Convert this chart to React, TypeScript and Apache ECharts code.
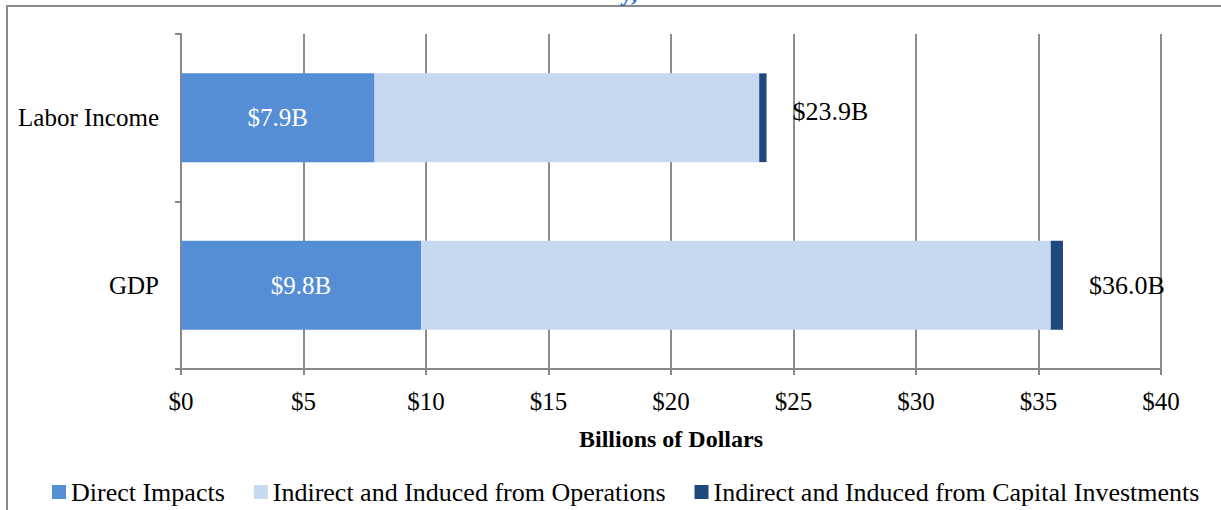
import React, { useEffect, useRef } from "react";
import * as echarts from "echarts";

const categories = ["Labor Income", "GDP"];
const directImpacts = [7.9, 9.8];
const indirectOperations = [15.7, 25.7];
const indirectCapital = [0.3, 0.5];
const totalLabels = ["$23.9B", "$36.0B"];
const directLabels = ["$7.9B", "$9.8B"];
const legendNames = [
  "Direct Impacts",
  "Indirect and Induced from Operations",
  "Indirect and Induced from Capital Investments",
];
const xTicks = { min: 0, max: 40, interval: 5 };

const FONT = "Liberation Serif";

export default function App() {
  const ref = useRef<HTMLDivElement>(null);
  useEffect(() => {
    const chart = echarts.init(ref.current!, null, { renderer: "svg" });
    chart.setOption({
      animation: false,
      textStyle: { fontFamily: FONT },
      graphic: [
        {
          type: "rect",
          shape: { x: 7, y: 6, width: 1400, height: 700 },
          style: { fill: "none", stroke: "#8a8a8a", lineWidth: 2 },
          z: -1,
        },
        {
          type: "text",
          x: 620,
          y: 5,
          style: {
            text: "y,",
            fontSize: 25,
            fontWeight: "bold",
            fontFamily: FONT,
            fill: "#1f6fc5",
            verticalAlign: "bottom",
          },
        },
      ],
      grid: { left: 181, right: 60, top: 34, bottom: 141, containLabel: false },
      legend: {
        left: 47,
        top: 474,
        itemWidth: 14,
        itemHeight: 14,
        itemGap: 29,
        icon: "rect",
        textStyle: {
          fontFamily: "serif",
          fontSize: 26,
          color: "#000",
        },
        data: legendNames,
      },
      xAxis: {
        type: "value",
        min: xTicks.min,
        max: xTicks.max,
        interval: xTicks.interval,
        name: "Billions of Dollars",
        nameLocation: "middle",
        nameGap: 58,
        nameTextStyle: { fontFamily: FONT, fontSize: 24, fontWeight: "bold", color: "#000" },
        axisLine: { show: true, lineStyle: { color: "#888", width: 2 } },
        axisTick: { show: true, length: 6, lineStyle: { color: "#888", width: 2 } },
        axisLabel: {
          formatter: (v: number) => "$" + v,
          fontFamily: FONT,
          fontSize: 25,
          color: "#000",
          margin: 20,
        },
        splitLine: { show: true, lineStyle: { color: "#8c8c8c", width: 2 } },
      },
      yAxis: {
        type: "category",
        data: categories,
        inverse: true,
        axisLine: { show: true, lineStyle: { color: "#888", width: 2 } },
        axisTick: { show: true, length: 6, lineStyle: { color: "#888", width: 2 } },
        axisLabel: { fontFamily: FONT, fontSize: 25, color: "#000", margin: 22 },
      },
      series: [
        {
          name: legendNames[0],
          type: "bar",
          stack: "total",
          barWidth: "53%",
          itemStyle: { color: "#558ed5" },
          label: {
            show: true,
            position: "inside",
            color: "#fff",
            fontFamily: FONT,
            fontSize: 25,
            formatter: (p: any) => directLabels[p.dataIndex],
          },
          data: directImpacts,
        },
        {
          name: legendNames[1],
          type: "bar",
          stack: "total",
          itemStyle: { color: "#c6d9f1" },
          data: indirectOperations,
        },
        {
          name: legendNames[2],
          type: "bar",
          stack: "total",
          itemStyle: { color: "#1f497d" },
          label: {
            show: true,
            position: "right",
            distance: 26,
            color: "#000",
            fontFamily: FONT,
            fontSize: 26,
            formatter: (p: any) => totalLabels[p.dataIndex],
          },
          data: indirectCapital.map((v, i) =>
            i === 0 ? { value: v, label: { offset: [0, -6] } } : { value: v }
          ),
        },
      ],
    });
    return () => chart.dispose();
  }, []);
  return (
    <div
      ref={ref}
      style={{ position: "fixed", left: 0, top: 0, width: 1221, height: 510, background: "#fff" }}
    />
  );
}
